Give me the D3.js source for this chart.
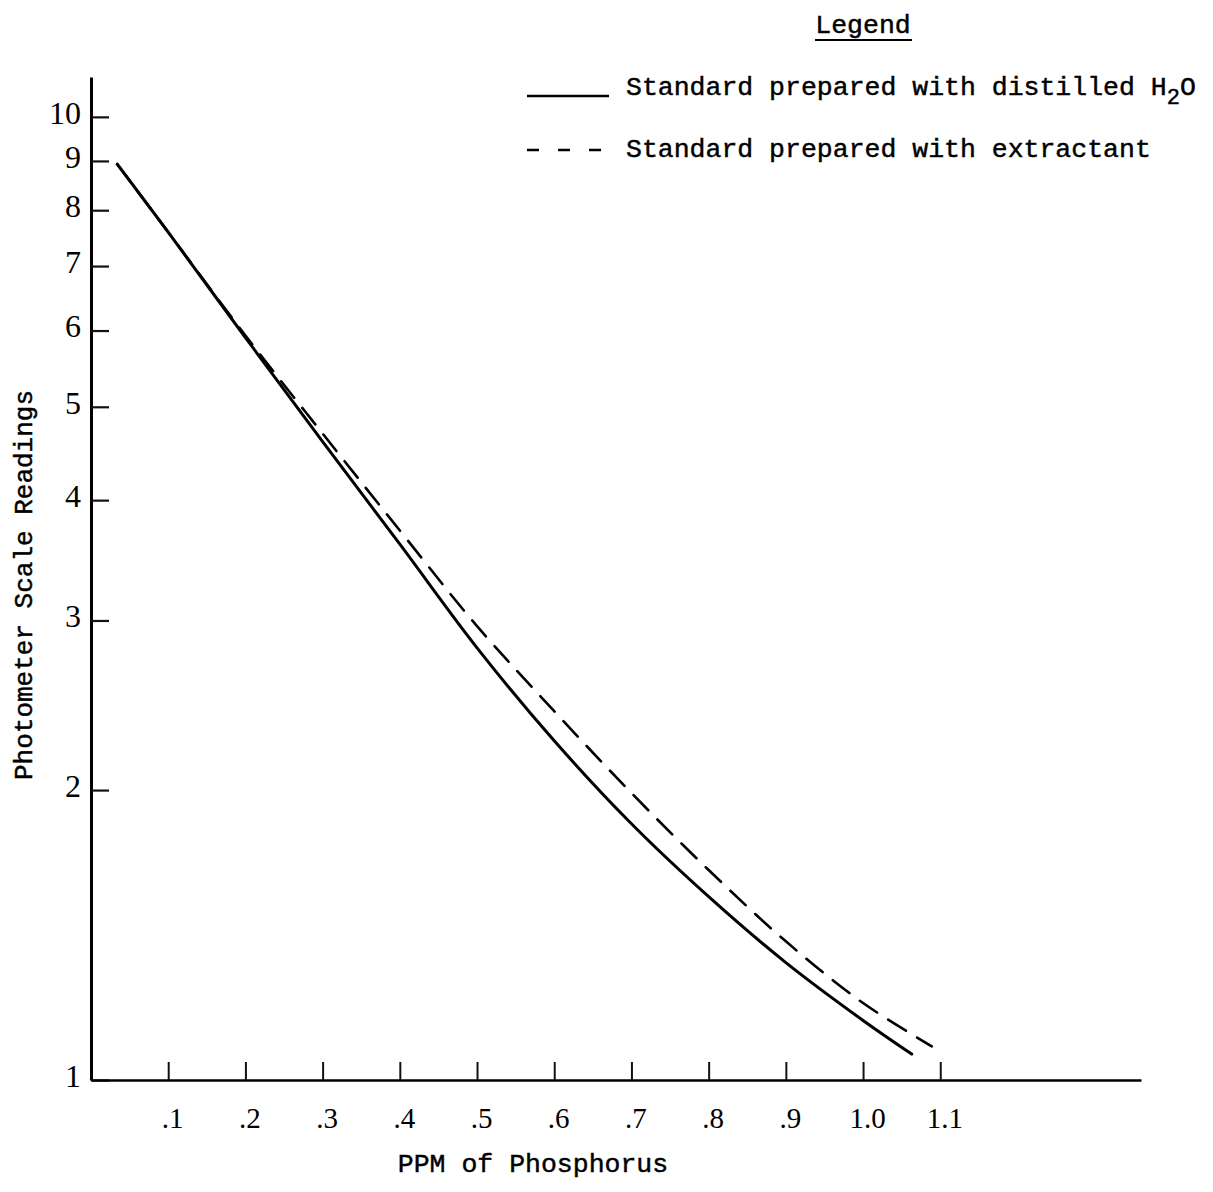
<!DOCTYPE html>
<html>
<head>
<meta charset="utf-8">
<script src="https://cdn.jsdelivr.net/npm/d3@7"></script>
<style>
  body { margin: 0; background: #fff; }
  svg { display: block; }
</style>
</head>
<body>
<svg id="chart" width="1213" height="1192"></svg>
<script>
// Calibration curves: photometer scale readings against phosphorus concentration (ppm)
const ppmDistilled = [0.034, 0.1, 0.2, 0.3, 0.4, 0.5, 0.6, 0.7, 0.8, 0.9, 1.0, 1.063];
const readingsDistilled = [8.93, 7.59, 5.90, 4.60, 3.60, 2.81, 2.25, 1.845, 1.55, 1.324, 1.153, 1.064];

const ppmExtractant = [0.034, 0.1, 0.2, 0.3, 0.4, 0.5, 0.6, 0.7, 0.8, 0.9, 1.0, 1.089];
const readingsExtractant = [8.93, 7.59, 5.93, 4.69, 3.72, 2.96, 2.415, 1.986, 1.652, 1.393, 1.202, 1.084];

const yTickValues = [1, 2, 3, 4, 5, 6, 7, 8, 9, 10];
const xTickValues = [0.1, 0.2, 0.3, 0.4, 0.5, 0.6, 0.7, 0.8, 0.9, 1.0, 1.1];
const xTickLabels = [".1", ".2", ".3", ".4", ".5", ".6", ".7", ".8", ".9", "1.0", "1.1"];

const legendTitle = "Legend";
const legendLabels = ["Standard prepared with distilled H", "Standard prepared with extractant"];
const xTitle = "PPM of Phosphorus";
const yTitle = "Photometer Scale Readings";

const typeFont = "'Liberation Mono', 'DejaVu Sans Mono', monospace";
const numFont = "'Liberation Serif', 'DejaVu Serif', serif";

const svg = d3.select("#chart");

const x = d3.scaleLinear().domain([0, 1.36]).range([91, 1141]);
const y = d3.scaleLog().domain([1, 11]).range([1080, 77]);

// Typewritten text helper: slightly heavier strokes
function typed(sel, size) {
  return sel.attr("font-family", typeFont)
    .attr("font-size", size)
    .attr("fill", "#000")
    .attr("stroke", "#000")
    .attr("stroke-width", 0.45);
}

// Y axis: ticks point right into the plot, labels on the left
const yAxis = d3.axisLeft(y)
  .tickValues(yTickValues)
  .tickFormat(d3.format("d"))
  .tickSizeInner(-18)
  .tickSizeOuter(0)
  .tickPadding(10);

const gy = svg.append("g").attr("transform", `translate(${x(0)},0)`).call(yAxis);
gy.select(".domain").attr("stroke", "#000").attr("stroke-width", 3);
gy.selectAll(".tick line").attr("stroke", "#111").attr("stroke-width", 2.2);
gy.selectAll(".tick text")
  .attr("font-family", numFont)
  .attr("font-size", 32)
  .attr("fill", "#000")
  .attr("dy", "0.2em");

// X axis: ticks point up into the plot
const xAxis = d3.axisBottom(x)
  .tickValues(xTickValues)
  .tickFormat((d, i) => xTickLabels[i])
  .tickSizeInner(-18)
  .tickSizeOuter(0)
  .tickPadding(27);

const gx = svg.append("g").attr("transform", `translate(0,${y(1)})`).call(xAxis);
gx.select(".domain").attr("stroke", "#000").attr("stroke-width", 2.6);
gx.selectAll(".tick line").attr("stroke", "#111").attr("stroke-width", 2);
gx.selectAll(".tick text")
  .attr("font-family", numFont)
  .attr("font-size", 29)
  .attr("fill", "#000")
  .attr("dx", 4);

// Curves
const line = d3.line()
  .x(d => x(d[0]))
  .y(d => y(d[1]))
  .curve(d3.curveCatmullRom.alpha(0.5));

const distilled = ppmDistilled.map((p, i) => [p, readingsDistilled[i]]);
const extractant = ppmExtractant.map((p, i) => [p, readingsExtractant[i]]);

svg.append("path")
  .datum(extractant)
  .attr("d", line)
  .attr("fill", "none")
  .attr("stroke", "#000")
  .attr("stroke-width", 2.6)
  .attr("stroke-dasharray", "21,13")
  .attr("stroke-linecap", "round");

svg.append("path")
  .datum(distilled)
  .attr("d", line)
  .attr("fill", "none")
  .attr("stroke", "#000")
  .attr("stroke-width", 3)
  .attr("stroke-linecap", "round");

// Axis titles
typed(svg.append("text"), 26.5)
  .attr("x", 533)
  .attr("y", 1172)
  .attr("text-anchor", "middle")
  .text(xTitle);

typed(svg.append("text"), 26)
  .attr("transform", "translate(32,585) rotate(-90)")
  .attr("text-anchor", "middle")
  .text(yTitle);

// Legend
const lg = svg.append("g");
typed(lg.append("text"), 26.5)
  .attr("x", 863)
  .attr("y", 33)
  .attr("text-anchor", "middle")
  .text(legendTitle);
lg.append("line")
  .attr("x1", 815).attr("x2", 912)
  .attr("y1", 40).attr("y2", 40)
  .attr("stroke", "#000").attr("stroke-width", 2);

lg.append("line")
  .attr("x1", 527).attr("x2", 609)
  .attr("y1", 96).attr("y2", 96)
  .attr("stroke", "#000").attr("stroke-width", 2.4);

const row1 = typed(lg.append("text"), 26.5)
  .attr("x", 626)
  .attr("y", 95);
row1.append("tspan").text(legendLabels[0]);
row1.append("tspan").attr("dy", 9).attr("font-size", 22).text("2");
row1.append("tspan").attr("dy", -9).text("O");

lg.append("line")
  .attr("x1", 527).attr("x2", 603)
  .attr("y1", 150).attr("y2", 150)
  .attr("stroke", "#000").attr("stroke-width", 2.6)
  .attr("stroke-dasharray", "12,19");

typed(lg.append("text"), 26.5)
  .attr("x", 626)
  .attr("y", 157)
  .text(legendLabels[1]);
</script>
</body>
</html>
